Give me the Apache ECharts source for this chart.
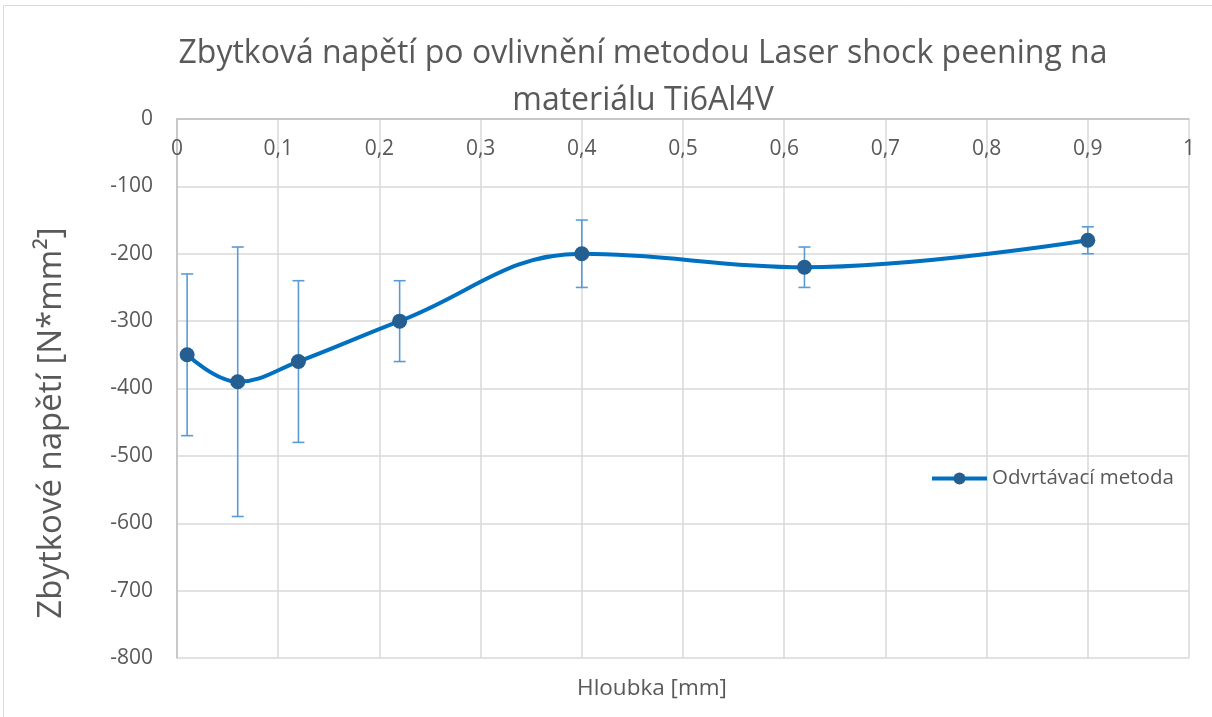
<!DOCTYPE html>
<html>
<head>
<meta charset="utf-8">
<script src="https://cdn.jsdelivr.net/npm/echarts@6/dist/echarts.min.js"></script>
<style>
  html, body { margin: 0; padding: 0; background: #fff; }
  #chart { width: 1212px; height: 717px; }
</style>
</head>
<body>
<div id="chart"></div>
<script>
// hloubka [mm]
const depths = [0.01, 0.06, 0.12, 0.22, 0.4, 0.62, 0.9]
// zbytkove napeti
const stresses = [-350, -390, -360, -300, -200, -220, -180]
// +/- chyba
const errors = [120, 200, 120, 60, 50, 30, 20]

const textColor = '#595959'
const font = 'Open Sans'

const chart = echarts.init(document.getElementById('chart'))

const lineData = depths.map((d, i) => [d, stresses[i]])
const errData = depths.map((d, i) => [d, stresses[i] - errors[i], stresses[i] + errors[i]])

chart.setOption({
  animation: false,
  textStyle: { fontFamily: font },
  title: [{
    text: 'Zbytková napětí po ovlivnění metodou Laser shock peening na\nmateriálu Ti6Al4V',
    left: 638,
    textAlign: 'center',
    top: 25,
    textStyle: {
      fontFamily: font,
      fontWeight: 'normal',
      fontSize: 32,
      lineHeight: 47,
      color: textColor
    }
  }, {
    text: 'Hloubka [mm]',
    left: 647,
    textAlign: 'center',
    top: 672,
    textStyle: { fontFamily: font, fontWeight: 'normal', fontSize: 22.5, color: textColor }
  }],
  graphic: [{
    type: 'rect',
    shape: { x: 3.5, y: 5.5, width: 1220, height: 730 },
    style: { fill: 'none', stroke: '#d9d9d9', lineWidth: 1 },
    silent: true
  }, {
    type: 'text',
    x: 52,
    y: 423,
    rotation: Math.PI / 2,
    silent: true,
    style: {
      text: 'Zbytkové napětí [N*mm²]',
      fontFamily: font,
      fontSize: 33,
      fill: textColor,
      align: 'center',
      verticalAlign: 'middle'
    }
  }],
  legend: {
    data: ['Odvrtávací metoda'],
    left: 930,
    top: 468,
    padding: 0,
    itemWidth: 55,
    itemHeight: 15,
    itemGap: 4,
    lineStyle: { width: 4 },
    textStyle: { fontFamily: font, fontSize: 20.5, color: textColor }
  },
  grid: {
    left: 177,
    right: 23,
    top: 119,
    bottom: 59,
    containLabel: false,
    outerBoundsMode: 'none'
  },
  xAxis: {
    type: 'value',
    position: 'top',
    min: 0,
    max: 1,
    interval: 0.1,
    axisLine: { show: true, onZero: false, lineStyle: { color: '#bfbfbf', width: 1.5 } },
    axisTick: { show: false },
    axisLabel: {
      inside: true,
      margin: 20,
      fontSize: 21,
      color: textColor,
      formatter: v => String(Math.round(v * 10) / 10).replace('.', ',')
    },
    splitLine: { show: true, lineStyle: { color: '#d9d9d9', width: 1.5 } }
  },
  yAxis: {
    type: 'value',
    min: -800,
    max: 0,
    interval: 100,
    axisLine: { show: true, lineStyle: { color: '#bfbfbf', width: 1.5 } },
    axisTick: { show: false },
    axisLabel: { fontSize: 21, color: textColor, margin: 24 },
    splitLine: { show: true, lineStyle: { color: '#d9d9d9', width: 1.5 } }
  },
  series: [
    {
      name: 'errors',
      type: 'custom',
      z: 2,
      data: errData,
      renderItem: function(params, api) {
        const x = api.value(0)
        const lo = api.coord([x, api.value(1)])
        const hi = api.coord([x, api.value(2)])
        const cap = 6
        const style = { stroke: '#5b9bd5', lineWidth: 1.6, fill: null }
        return {
          type: 'group',
          children: [
            { type: 'line', shape: { x1: lo[0], y1: lo[1], x2: hi[0], y2: hi[1] }, style },
            { type: 'line', shape: { x1: lo[0] - cap, y1: lo[1], x2: lo[0] + cap, y2: lo[1] }, style },
            { type: 'line', shape: { x1: hi[0] - cap, y1: hi[1], x2: hi[0] + cap, y2: hi[1] }, style }
          ]
        }
      }
    },
    {
      name: 'Odvrtávací metoda',
      type: 'line',
      z: 3,
      smooth: 0.4,
      data: lineData,
      symbol: 'circle',
      symbolSize: 15,
      lineStyle: { color: '#0070c0', width: 4 },
      itemStyle: { color: '#255e91', borderColor: '#255e91', borderWidth: 0 }
    }
  ]
})
</script>
</body>
</html>
